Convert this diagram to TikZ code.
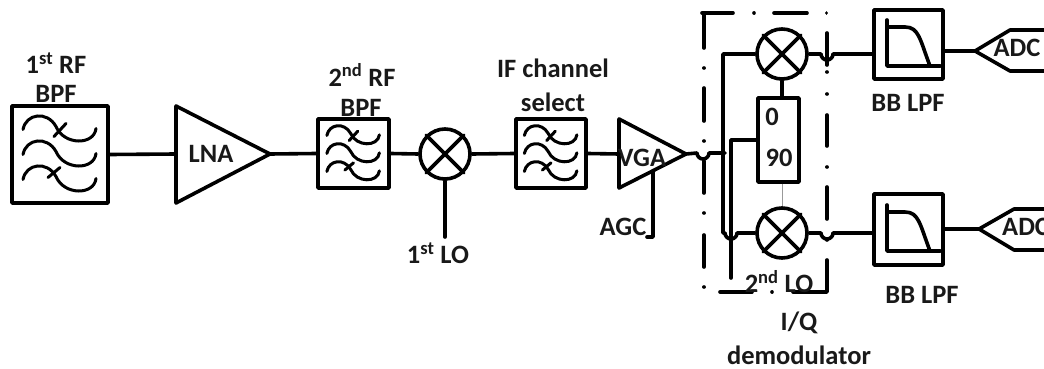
\documentclass[tikz,border=0pt]{standalone}
\usepackage{fontspec}
\setmainfont{Carlito}
\tikzset{
  x=1pt,y=-1pt,
  wire/.style={line width=3.6pt,line cap=round,line join=round},
  blockbox/.style={draw,line width=3.6pt,rectangle,inner sep=0pt,line join=round},
  mix/.style={draw,line width=3.6pt,circle,inner sep=0pt,minimum size=50pt},
  lab/.style={inner sep=0pt,font=\fontsize{26.5}{26.5}\bfseries\selectfont,text=black!90},
  fwire/.style={line width=3pt,line cap=round},
  bpfsym/.pic={
    \foreach \dy in {-25,0,25}{
      \draw[fwire] (-37,\dy) .. controls (-34,\dy-16) and (-13,\dy-19) .. (-4,\dy-3)
        .. controls (4,\dy+16) and (34,\dy+16) .. (36,\dy-1);
    }
    \draw[fwire] (-6,-18) -- (6,-31);
    \draw[fwire] (-12,23) -- (0,13);
  },
  lpfsym/.pic={
    \draw[wire] (0,0) -- (0,46) -- (53,46);
    \draw[wire] (0,7) -- (18,7) .. controls (32,7) and (33,20) .. (43,46);
  }
}
\newcommand{\mixcross}[1]{\draw[wire] (#1.45)--(#1.225) (#1.135)--(#1.315);}
\begin{document}
\begin{tikzpicture}
\useasboundingbox (0,0) rectangle (1044,369);
% filters
\node[blockbox,minimum width=96pt,minimum height=97pt] (bpfa) at (60,154.5) {};
\pic at (60,154.5) {bpfsym};
\node[blockbox,minimum width=71pt,minimum height=69pt] (bpfb) at (353.5,153.5) {};
\pic[scale=.72] at (353.5,153.5) {bpfsym};
\node[blockbox,minimum width=70pt,minimum height=69pt] (bpfc) at (551,153.5) {};
\pic[scale=.72] at (551,153.5) {bpfsym};
% amplifiers
\coordinate (lnain) at (176,154); \coordinate (lnaout) at (270,154);
\draw[wire] (176,106) -- (lnaout) -- (176,203) -- cycle;
\node[lab] (lnat) at (211,154) {LNA};
\coordinate (vgain) at (619,154); \coordinate (vgaout) at (686,154);
\draw[wire] (619,119) -- (vgaout) -- (619,188) -- cycle;
\node[lab] (vgat) at (642,158) {VGA};
% mixers
\node[mix] (m1) at (445,154) {}; \mixcross{m1}
\node[mix] (mi) at (782,54) {}; \mixcross{mi}
\node[mix] (mq) at (782,233) {}; \mixcross{mq}
% phase splitter
\node[blockbox,minimum width=41pt,minimum height=84pt] (ps) at (778.5,140) {};
\node[lab] (p0) at (772,117) {0};
\node[lab] (p90) at (779,158) {90};
% LPFs
\node[blockbox,minimum width=69pt,minimum height=69pt] (lpfi) at (908.5,44.5) {};
\pic at (887,20) {lpfsym};
\node[blockbox,minimum width=69pt,minimum height=71pt] (lpfq) at (908.5,229.5) {};
\pic at (887,205) {lpfsym};
% ADCs
\coordinate (adcitip) at (975,51); \coordinate (adcqtip) at (979,229);
\coordinate (adcia) at (1046,30); \coordinate (adcib) at (1046,71);
\coordinate (adcqa) at (1046,209); \coordinate (adcqb) at (1046,250);
\draw[wire] (adcia) -- (1010,30) -- (adcitip) -- (1010,71) -- (adcib);
\draw[wire] (adcqa) -- (1014,209) -- (adcqtip) -- (1014,250) -- (adcqb);
\node[lab] (adcit) at (1017,48) {ADC};
\node[lab,anchor=west] (adcqt) at (1002,227) {ADC};
% chain
\draw[wire] (bpfa.east) -- (lnain);
\draw[wire] (lnaout) -- (bpfb.west);
\draw[wire] (bpfb.east) -- (m1.west);
\draw[wire] (m1.east) -- (bpfc.west);
\draw[wire] (bpfc.east) -- (vgain);
\coordinate (lo1) at (445,237);
\draw[wire] (m1.south) -- (lo1);
\coordinate (agcl) at (647,237);
\draw[wire] (653,172) -- (653,237) -- (agcl);
% I/Q wiring
\coordinate (jn) at (725,153);
\draw[wire] (vgaout) -- (697,153) arc[start angle=180,end angle=0,radius=6] -- (jn);
\draw[wire] (mi.west) -- (723,54) -- (723,233) -- (725,233) arc[start angle=180,end angle=0,radius=6] -- (mq.west);
\draw[wire] (ps.west |- 0,140) -- (731,140) -- (731,278);
\draw[wire] (mi.south) -- (mi.south |- ps.north);
\draw[line width=.8pt,black!40] (mq.north |- ps.south) -- (mq.north);
\draw[wire] (mi.east) -- (821,54) arc[start angle=180,end angle=0,radius=6] -- (lpfi.west |- 0,54);
\draw[wire] (mq.east) -- (821,233) arc[start angle=180,end angle=0,radius=6] -- (lpfq.west |- 0,233);
\draw[wire] (lpfi.east |- 0,51) -- (adcitip);
\draw[wire] (lpfq.east |- 0,229) -- (adcqtip);
% dash-dot frame
\draw[wire]
  (702,13)--(733,13) (754,13)--(754.01,13) (774,13)--(807,13) (826.5,13)--(826.5,13.01)
  (704,15)--(704,48) (704,68)--(704,68.01) (704,88)--(704,121) (704,141)--(704,141.01)
  (704,161)--(704,193) (704,213)--(704,213.01) (704,235)--(704,267) (704,287)--(704,287.01)
  (720,292)--(752,292) (772,292)--(772.01,292) (793,292)--(827,292)--(827,260)
  (827,33)--(827,65) (827,72)--(827,72.01) (827,94)--(827,94.01) (827,115)--(827,146)
  (827,167)--(827,167.01) (827,187)--(827,219) (827,240)--(827,240.01);
% labels
\node[lab] (t1a) at (56,63) {1\textsuperscript{st} RF};
\node[lab] (t1b) at (56,94) {BPF};
\node[lab] (t2a) at (362,75) {2\textsuperscript{nd} RF};
\node[lab] (t2b) at (361,108) {BPF};
\node[lab] (t3a) at (553,68) {IF channel};
\node[lab] (t3b) at (553,102) {select};
\node[lab] (t4) at (438,253) {1\textsuperscript{st} LO};
\node[lab] (t5) at (623,227) {AGC};
\node[lab] (t6) at (908,103) {BB LPF};
\node[lab] (t7) at (922,295) {BB LPF};
\node[lab] (t8) at (779,282) {2\textsuperscript{nd} LO};
\node[lab] (t9) at (799,323) {I/Q};
\node[lab] (t10) at (799,355) {demodulator};
\end{tikzpicture}
\end{document}
